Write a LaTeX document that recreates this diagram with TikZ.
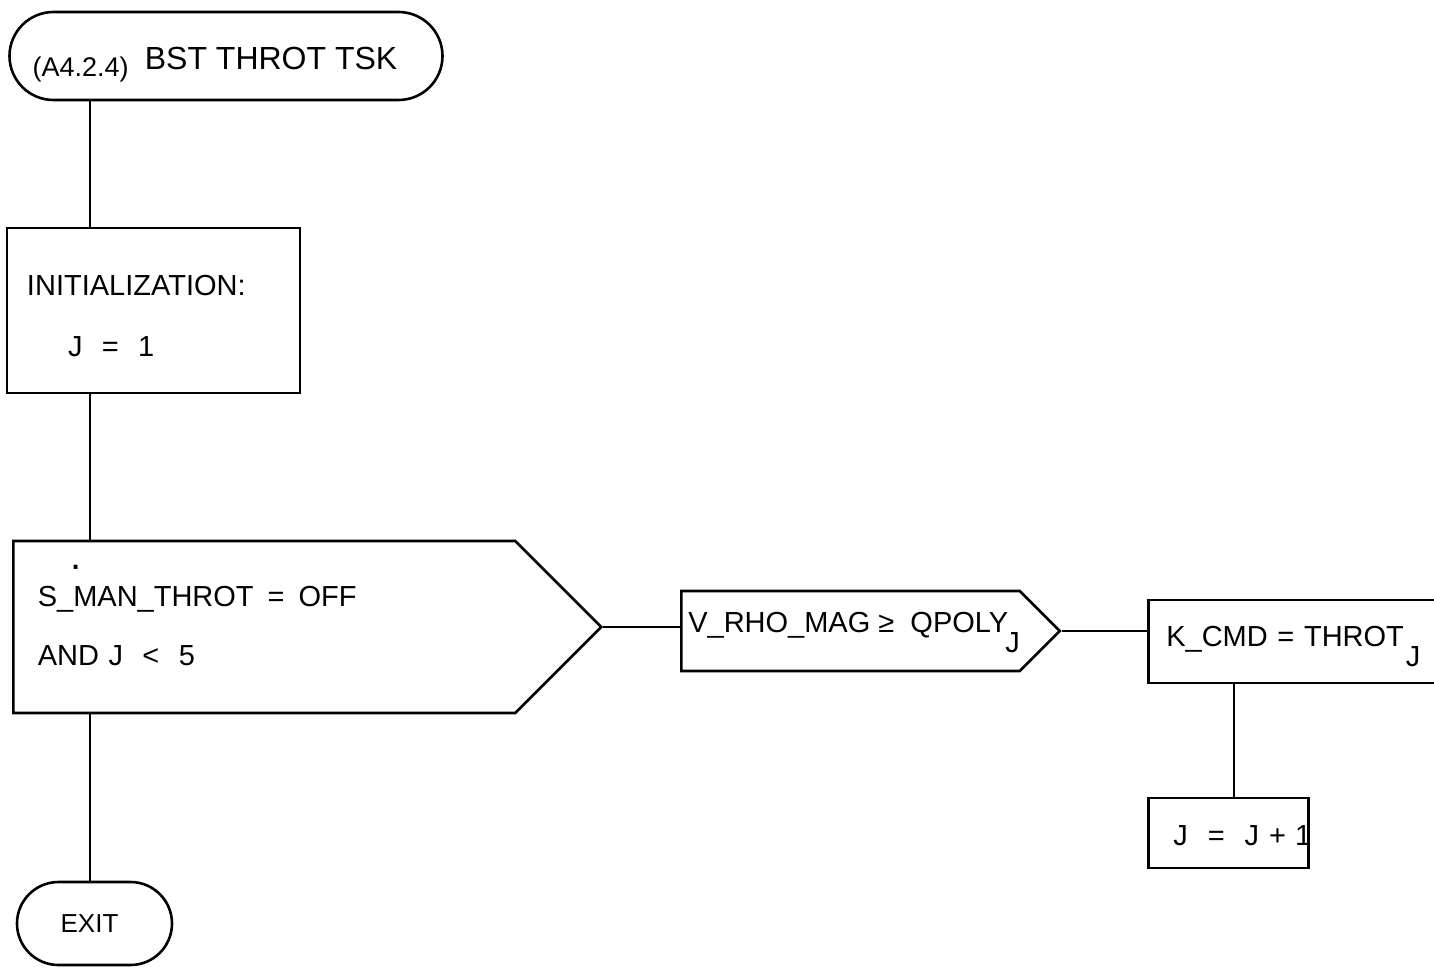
\documentclass[tikz,border=0pt]{standalone}
\usepackage{fontspec}
\setmainfont{Liberation Sans}
\usetikzlibrary{shapes.misc,shapes.symbols}
\newcommand{\subJ}{\raisebox{-20pt}{J}}
\newcommand{\wsp}{\hspace{14pt}}

\begin{document}
\begin{tikzpicture}[x=1pt, y=-1pt, line width=2.3pt,
  every node/.style={font=\fontsize{29}{61}\selectfont},
  terminal/.style={draw, line width=2.6pt, rounded rectangle, inner sep=0pt},
  procbox/.style={draw, line width=2.6pt, rectangle, inner sep=0pt, align=left},
  decide/.style={draw, line width=2.6pt, signal, signal to=east, inner sep=0pt, align=left}]
  \clip (0,0) rectangle (1434,968);
  \coordinate (spine) at (90,0);
  \coordinate (drop) at (1234,0);

  % Terminals
  \node[terminal, minimum width=433pt, minimum height=88pt, text height=28pt, text depth=0pt] (start) at (226,56)
    {\raisebox{-7pt}[0pt][0pt]{\fontsize{27}{27}\selectfont(A4.2.4)}\ \ {\fontsize{32}{32}\selectfont BST THROT TSK}\hspace*{22pt}};
  \node[terminal, minimum width=155pt, minimum height=83pt] (exit) at (94.5,923.5)
    {\fontsize{26}{26}\selectfont EXIT\hspace*{10pt}};

  % Process boxes
  \node[procbox, minimum width=293pt, minimum height=165pt, text width=253pt, inner xsep=20pt] (init) at (153.5,310.5)
    {\rule{0pt}{31pt}INITIALIZATION:\\\hspace*{41pt}J \ = \ 1};
  \node[procbox, minimum width=320pt, minimum height=83pt, text width=284pt, inner xsep=18pt,
    text height=10pt, text depth=0pt, anchor=west] (kcmd) at (1147,641.5)
    {K\_CMD = THROT\hspace{2pt}\subJ};
  \node[procbox, minimum width=160pt, minimum height=70pt, text width=160pt,
    text height=24pt, text depth=0pt, anchor=west] (incr) at (1147,833)
    {\hspace*{25pt}J\hspace{20pt}=\hspace{20pt}J\hspace{10pt}+\hspace{9pt}\rlap{1}};

  % Decisions
  \node[decide, minimum width=588pt, minimum height=172pt, text width=453pt, anchor=west] (dec) at (12,627)
    {S\_\rlap{\hspace{-3pt}\raisebox{37pt}{\fontsize{40}{40}\selectfont.}}MAN\_THROT\wsp=\wsp OFF\\[-2pt]AND J \ < \ 5\rule[-24pt]{0pt}{24pt}};
  \node[decide, minimum width=378pt, minimum height=80pt, text height=2pt, text depth=0pt, anchor=west] (cond) at (680,631)
    {\hspace*{7pt}V\_RHO\_MAG ≥ \ QPOLY\hspace{-3pt}\subJ};

  % Flow lines
  \draw (spine |- start.south) -- (spine |- init.north);
  \draw (spine |- init.south) -- (spine |- dec.north);
  \draw (spine |- dec.south) -- (spine |- exit.north);
  \draw (dec.east) -- (dec.east -| cond.west);
  \draw (cond.east) -- (cond.east -| kcmd.west);
  \draw (drop |- kcmd.south) -- (drop |- incr.north);
\end{tikzpicture}
\end{document}
